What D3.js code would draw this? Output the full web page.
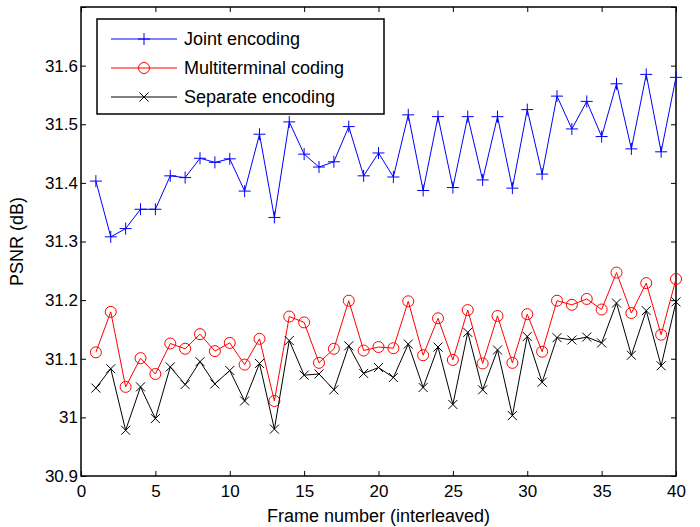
<!DOCTYPE html>
<html>
<head>
<meta charset="utf-8">
<script src="https://cdn.jsdelivr.net/npm/d3@7"></script>
<style>
  body { margin: 0; background: #fff; }
  svg text { font-family: "Liberation Sans", Arial, sans-serif; }
</style>
</head>
<body>
<div id="viz"></div>
<script>
'use strict';

const frames = d3.range(1, 41);

const joint = [
  31.403, 31.308, 31.322, 31.355, 31.355, 31.412, 31.409, 31.442, 31.435, 31.441,
  31.386, 31.483, 31.341, 31.504, 31.449, 31.427, 31.436, 31.496, 31.412, 31.451,
  31.410, 31.516, 31.387, 31.513, 31.392, 31.513, 31.405, 31.513, 31.391, 31.525,
  31.415, 31.548, 31.492, 31.539, 31.479, 31.569, 31.458, 31.585, 31.453, 31.580
];

const multi = [
  31.111, 31.180, 31.052, 31.101, 31.074, 31.126, 31.117, 31.142, 31.113, 31.127,
  31.090, 31.134, 31.028, 31.172, 31.162, 31.093, 31.117, 31.199, 31.114, 31.120,
  31.118, 31.198, 31.106, 31.169, 31.098, 31.183, 31.092, 31.173, 31.093, 31.176,
  31.112, 31.199, 31.192, 31.202, 31.184, 31.247, 31.178, 31.229, 31.141, 31.236
];

const separate = [
  31.050, 31.083, 30.978, 31.052, 30.998, 31.086, 31.056, 31.095, 31.057, 31.080,
  31.028, 31.092, 30.980, 31.131, 31.072, 31.074, 31.047, 31.122, 31.075, 31.085,
  31.068, 31.125, 31.051, 31.120, 31.022, 31.145, 31.047, 31.115, 31.003, 31.138,
  31.060, 31.136, 31.132, 31.137, 31.127, 31.195, 31.106, 31.182, 31.088, 31.197
];

const xTicks = [0, 5, 10, 15, 20, 25, 30, 35, 40];
const yTicks = [30.9, 31, 31.1, 31.2, 31.3, 31.4, 31.5, 31.6, 31.7];
const yLabels = [30.9, 31, 31.1, 31.2, 31.3, 31.4, 31.5, 31.6];

const seriesNames = ['Joint encoding', 'Multiterminal coding', 'Separate encoding'];

const series = [
  {name: seriesNames[0], values: joint, color: '#0000ff', marker: 'plus'},
  {name: seriesNames[1], values: multi, color: '#ff0000', marker: 'circle'},
  {name: seriesNames[2], values: separate, color: '#000000', marker: 'cross'}
];

const W = 700, H = 527;
const margin = {top: 7, right: 24, bottom: 51, left: 81};
const width = W - margin.left - margin.right;
const height = H - margin.top - margin.bottom;

const svg = d3.select('#viz')
  .append('svg')
    .attr('width', W)
    .attr('height', H)
  .append('g')
    .attr('transform', `translate(${margin.left},${margin.top})`);

const x = d3.scaleLinear().domain([0, 40]).range([0, width]);
const y = d3.scaleLinear().domain([30.9, 31.7]).range([height, 0]);

const fmt = v => String(+v.toFixed(1));

// bottom axis, ticks pointing inward
svg.append('g')
  .attr('transform', `translate(0,${height})`)
  .call(d3.axisBottom(x).tickValues(xTicks).tickSize(-5).tickPadding(9).tickFormat(fmt));

svg.append('g')
  .call(d3.axisLeft(y).tickValues(yTicks).tickSize(-5).tickPadding(3)
    .tickFormat(v => yLabels.some(l => Math.abs(l - v) < 1e-6) ? fmt(v) : ''));

// top and right ticks
svg.append('g')
  .call(d3.axisTop(x).tickValues(xTicks).tickSize(-5).tickFormat(''));
svg.append('g')
  .attr('transform', `translate(${width},0)`)
  .call(d3.axisRight(y).tickValues(yTicks).tickSize(-5).tickFormat(''));

svg.selectAll('.domain').remove();
svg.selectAll('.tick line').attr('stroke', '#000').attr('stroke-width', 1);
svg.selectAll('.tick text').attr('font-size', 17).attr('fill', '#000');

// box
svg.append('rect')
  .attr('width', width)
  .attr('height', height)
  .attr('fill', 'none')
  .attr('stroke', '#000')
  .attr('stroke-width', 1.5);

function drawMarker(g, type, cx, cy, color) {
  if (type === 'plus') {
    g.append('path')
      .attr('d', `M${cx - 6},${cy}H${cx + 6}M${cx},${cy - 6}V${cy + 6}`)
      .attr('stroke', color).attr('stroke-width', 1).attr('fill', 'none');
  } else if (type === 'circle') {
    g.append('circle')
      .attr('cx', cx).attr('cy', cy).attr('r', 5.5)
      .attr('stroke', color).attr('stroke-width', 1).attr('fill', 'none');
  } else {
    g.append('path')
      .attr('d', `M${cx - 4.5},${cy - 4.5}L${cx + 4.5},${cy + 4.5}M${cx - 4.5},${cy + 4.5}L${cx + 4.5},${cy - 4.5}`)
      .attr('stroke', color).attr('stroke-width', 1).attr('fill', 'none');
  }
}

const line = d3.line()
  .x(d => x(d[0]))
  .y(d => y(d[1]));

series.forEach(s => {
  const pts = frames.map((f, i) => [f, s.values[i]]);
  svg.append('path')
    .datum(pts)
    .attr('fill', 'none')
    .attr('stroke', s.color)
    .attr('stroke-width', 1)
    .attr('d', line);
  const mg = svg.append('g');
  pts.forEach(p => drawMarker(mg, s.marker, x(p[0]), y(p[1]), s.color));
});

// legend
const legend = svg.append('g')
  .attr('transform', 'translate(16,12)');

legend.append('rect')
  .attr('width', 287)
  .attr('height', 95)
  .attr('fill', '#fff')
  .attr('stroke', '#000')
  .attr('stroke-width', 1.5);

series.forEach((s, i) => {
  const ly = 20 + i * 29;
  legend.append('line')
    .attr('x1', 14).attr('x2', 80)
    .attr('y1', ly).attr('y2', ly)
    .attr('stroke', s.color).attr('stroke-width', 1);
  drawMarker(legend, s.marker, 47, ly, s.color);
  legend.append('text')
    .attr('x', 87)
    .attr('y', ly)
    .attr('dy', '0.35em')
    .attr('font-size', 18)
    .text(s.name);
});

// axis labels
svg.append('text')
  .attr('x', width / 2)
  .attr('y', height + 46)
  .attr('text-anchor', 'middle')
  .attr('font-size', 18)
  .text('Frame number (interleaved)');

svg.append('text')
  .attr('transform', `translate(-58,${height / 2}) rotate(-90)`)
  .attr('text-anchor', 'middle')
  .attr('font-size', 18)
  .text('PSNR (dB)');
</script>
</body>
</html>
